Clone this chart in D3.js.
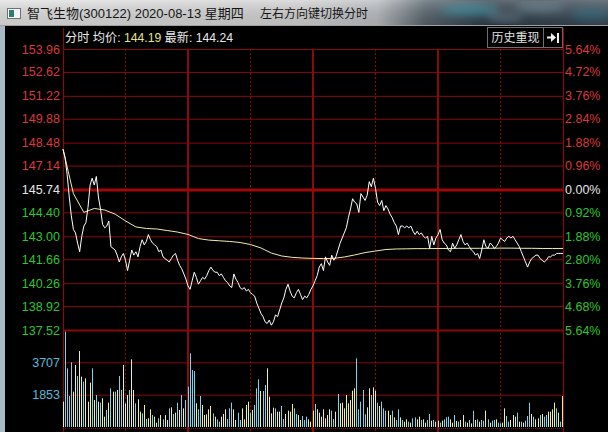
<!DOCTYPE html>
<html><head><meta charset="utf-8">
<script src="https://cdn.jsdelivr.net/npm/d3@7"></script>
<style>
html,body{margin:0;padding:0;background:#000;overflow:hidden}
svg{display:block}
text{font-family:"Liberation Sans","Noto Sans CJK SC",Arial,sans-serif}
</style></head><body>
<svg id="c" width="608" height="432"></svg>
<script>
// ---------------- data ----------------
const titleText = "智飞生物(300122) 2020-08-13 星期四";
const hintText = "左右方向键切换分时";
const headerLabels = ["分时 均价:", "144.19", "最新:", "144.24"];
const buttonText = "历史重现";

const prevClose = 145.74;
const priceTicks = [153.96,152.62,151.22,149.88,148.48,147.14,145.74,144.40,143.00,141.66,140.26,138.92,137.52];
const pctLabels = ["5.64%","4.72%","3.76%","2.84%","1.88%","0.96%","0.00%","0.92%","1.88%","2.80%","3.76%","4.68%","5.64%"];
const volTicks = [3707, 1853];
const volTop = 5560;

// minute prices 09:30 .. 15:00 (241 points)
const price = [
148.1,147.6,146.6,145.3,144.2,143.4,143.2,142.6,142.1,143.0,
143.6,143.8,144.7,146.0,146.4,146.0,146.5,145.3,144.6,143.7,
143.5,143.6,143.9,142.4,142.3,142.2,141.9,141.5,141.8,142.0,
141.6,141.0,141.6,142.2,141.9,142.1,141.8,142.4,142.8,142.5,
142.7,143.1,142.8,142.6,142.5,142.4,142.1,142.2,141.8,141.7,
141.6,141.5,141.7,141.9,142.0,141.6,141.3,141.1,140.8,140.5,
140.1,139.9,140.4,140.9,140.6,140.2,140.4,140.6,140.5,140.7,
141.0,141.2,141.0,140.9,140.9,140.7,140.8,140.6,140.4,140.3,
140.1,140.0,140.8,140.5,140.3,140.0,139.9,140.0,139.8,139.9,
139.7,139.6,139.5,139.1,138.8,138.5,138.3,138.0,137.9,138.1,
137.8,138.0,138.4,138.3,138.7,139.1,139.4,139.9,140.2,139.8,
139.5,139.4,139.7,139.9,139.6,139.3,139.5,139.4,139.6,139.9,
140.1,140.4,140.7,141.2,141.4,141.0,141.8,141.5,141.3,141.9,
141.6,141.8,142.2,142.6,142.9,143.2,143.5,144.1,144.6,145.2,
145.0,144.9,144.4,145.5,145.3,145.1,145.4,146.2,145.9,146.4,
145.8,145.0,144.8,145.1,144.5,144.8,144.6,144.3,144.1,143.8,
143.6,143.1,143.6,143.6,143.5,143.6,143.5,143.6,143.3,143.1,
143.3,143.1,143.2,143.0,142.9,143.0,142.3,143.0,142.5,142.9,
143.1,143.4,142.8,142.6,142.5,142.2,142.1,142.6,142.3,142.5,
142.8,143.1,142.7,142.5,142.6,142.4,142.2,142.1,141.9,142.0,
141.7,142.2,142.8,142.4,142.3,142.6,142.5,142.3,142.4,142.6,
142.9,142.8,142.7,142.9,143.0,142.9,143.0,142.8,142.6,142.4,
142.1,141.8,141.5,141.2,141.5,141.7,141.8,141.9,141.9,141.7,
141.6,141.5,141.6,141.8,141.8,141.9,141.9,142.0,142.0,142.0,
142.0];

// average price line, read every 5 minutes
const avgStep = 5;
const avgPrice = [
148.1,145.5,144.4,144.63,144.54,144.3,143.9,143.55,143.46,143.43,
143.34,143.25,143.11,142.87,142.78,142.74,142.70,142.64,142.52,142.32,
142.02,141.85,141.77,141.73,141.71,141.70,141.71,141.79,141.91,142.05,
142.14,142.23,142.26,142.27,142.28,142.28,142.29,142.29,142.30,142.30,
142.30,142.30,142.31,142.31,142.30,142.30,142.29,142.29,142.29];

// minute volume (241)
const volume = [
1452,5465,3363,1777,3707,2025,3554,2923,4356,2885,
2598,2789,1452,2541,3363,1548,1834,1452,1395,1643,
592,974,1395,2216,2025,2025,2121,2923,2121,3554,
1357,1834,2121,3879,2121,1357,1586,879,783,1261,
459,497,1013,688,592,248,497,688,440,688,
401,1070,1127,745,822,1395,974,1834,1070,
1548,2312,4223,3267,3210,1357,1013,
1777,1261,688,726,1013,1204,783,592,439,306,
592,745,1013,459,1070,1395,1013,401,822,401,
1070,439,1261,1452,822,974,1261,2216,2732,2064,
2064,2407,3363,1739,783,1108,1070,879,879,
1204,459,745,936,879,1318,1070,745,688,401,
631,401,592,439,306,936,1318,1013,822,
592,1013,497,688,1013,936,459,879,1892,1357,
1395,1070,1834,1357,1548,2083,2216,3936,1013,
1452,2121,726,1127,2216,1834,2274,2083,1395,1204,
1452,1070,936,936,
688,936,554,401,1013,554,401,306,439,306,
248,497,554,439,592,401,439,248,401,745,
363,401,306,363,248,363,439,554,592,439,
248,688,344,306,401,688,306,248,401,210,
936,401,439,306,401,363,936,439,248,363,
401,439,248,210,248,1070,631,306,401,688,
592,822,306,306,248,363,631,1395,745,592,
439,497,688,745,592,688,879,879,1013,1395,
1070,822,306,1777];

// bar direction: Y = up (yellow), C = down (cyan)
const volDir = (
"YCCCCYYCYY"+"CYYYCYCYCY"+"YCYCYCYCCY"+"YYCYYCYYCY"+"CYYCYYCYCY"+"YCYCYCYCY"+"CCCCCYC"+
"CYYYYYCYCC"+"YYYCCCYYCC"+"YYYYCYCCCY"+"CCYYYYCYY"+"CCYYYYCCYY"+"CCCYYYCYY"+"YYYYYCCYCY"+"YYYYYYYCC"+"CCCYYCYYCY"+"CCCY"+
"YCYCCYCYYC"+"YCCYYCYYCC"+"YCYYCYCCCY"+"YCYCYYCYCY"+"CYCYCCYCYC"+"CYCCYYCCYY"+"YCYCYCCCYC"+"YYCYCCYYYY"+"CYCY"
).split("");

// ---------------- drawing ----------------
const svg = d3.select("#c");
const W = 608, H = 432;
const L = 63, R = 563, T = 49, PB = 330, VB = 427;

const x = d3.scaleLinear().domain([0, 240]).range([L, R]);
const y = d3.scaleLinear().domain([137.52, 153.96]).range([PB, T]);
const yv = d3.scaleLinear().domain([0, volTop]).range([VB, PB]);

svg.append("rect").attr("width", W).attr("height", H).attr("fill", "#000");

// title bar
const defs = svg.append("defs");
const g1 = defs.append("linearGradient").attr("id", "tb").attr("x1", 0).attr("x2", 1).attr("y1", 0).attr("y2", 0);
[["0%","#e2e2e2"],["50%","#d0d0d0"],["62%","#b8bcc0"],["70%","#56626c"],["80%","#2c3a46"],["100%","#3a4854"]]
  .forEach(s => g1.append("stop").attr("offset", s[0]).attr("stop-color", s[1]));
const g2 = defs.append("linearGradient").attr("id", "tbv").attr("x1", 0).attr("x2", 0).attr("y1", 0).attr("y2", 1);
[["0%","#ffffff","0.25"],["100%","#000000","0.1"]]
  .forEach(s => g2.append("stop").attr("offset", s[0]).attr("stop-color", s[1]).attr("stop-opacity", s[2]));
defs.append("filter").attr("id", "blur").append("feGaussianBlur").attr("stdDeviation", 4);

svg.append("rect").attr("x", 0).attr("y", 0).attr("width", W).attr("height", 26).attr("fill", "url(#tb)");
const blobs = svg.append("g").attr("filter", "url(#blur)");
[[470,10,30,6,"#2f8ca0"],[540,8,25,5,"#5a7a8a"],[590,14,20,6,"#2a6a80"],[505,18,18,4,"#6a8090"]]
  .forEach(b => blobs.append("ellipse").attr("cx", b[0]).attr("cy", b[1]).attr("rx", b[2]).attr("ry", b[3]).attr("fill", b[4]).attr("opacity", 0.7));
svg.append("rect").attr("x", 0).attr("y", 0).attr("width", W).attr("height", 26).attr("fill", "url(#tbv)");
svg.append("line").attr("x1", 0).attr("x2", W).attr("y1", 25.5).attr("y2", 25.5).attr("stroke", "#a0a0a0");

// window icon
svg.append("rect").attr("x", 7.5).attr("y", 8.5).attr("width", 13).attr("height", 10).attr("fill", "#f4f4f4").attr("stroke", "#707070");
svg.append("rect").attr("x", 9).attr("y", 10).attr("width", 5).attr("height", 7).attr("fill", "#2e7d6e");

svg.append("text").attr("x", 27).attr("y", 18).attr("font-size", 13).attr("fill", "#151515").text(titleText);
svg.append("text").attr("x", 260).attr("y", 18).attr("font-size", 12).attr("fill", "#151515").text(hintText);

// left window frame strip
svg.append("rect").attr("x", 0).attr("y", 26).attr("width", 5).attr("height", H - 26).attr("fill", "#a8bac6");

// header text
const ht = svg.append("text").attr("x", 65).attr("y", 42).attr("font-size", 12.2);
ht.append("tspan").attr("fill", "#e8e8e8").text(headerLabels[0] + " ");
ht.append("tspan").attr("fill", "#e4e48a").text(headerLabels[1]);
ht.append("tspan").attr("fill", "#e8e8e8").text(" " + headerLabels[2] + " ");
ht.append("tspan").attr("fill", "#e8e8e8").text(headerLabels[3]);

// button
svg.append("rect").attr("x", 487.5).attr("y", 27.5).attr("width", 56).attr("height", 20).attr("fill", "#000").attr("stroke", "#6e6e6e");
svg.append("rect").attr("x", 543.5).attr("y", 27.5).attr("width", 19).attr("height", 20).attr("fill", "#000").attr("stroke", "#6e6e6e");
svg.append("text").attr("x", 515.5).attr("y", 42).attr("font-size", 12).attr("text-anchor", "middle").attr("fill", "#e0e0e0").text(buttonText);
svg.append("path").attr("d", "M547,36.5h4v-3.5l5,4.5l-5,4.5v-3.5h-4z M557,33h2v10h-2z").attr("fill", "#f0f0f0");

// ---------- grid ----------
const grid = svg.append("g");
const thin = "#8a0a0a";
// vertical borders
[0, 240].forEach(m => grid.append("line").attr("x1", x(m) + 0.5).attr("x2", x(m) + 0.5)
  .attr("y1", 28).attr("y2", H).attr("stroke", thin).attr("stroke-width", 1.2));
// hour lines
[60, 120, 180].forEach(m => grid.append("line").attr("x1", x(m)).attr("x2", x(m))
  .attr("y1", T).attr("y2", H).attr("stroke", thin).attr("stroke-width", 2));
// half-hour dotted
[30, 90, 150, 210].forEach(m => grid.append("line").attr("x1", x(m)).attr("x2", x(m))
  .attr("y1", T).attr("y2", H).attr("stroke", thin).attr("stroke-width", 1).attr("stroke-dasharray", "2,2"));

// horizontal price grid via axis
const hg = svg.append("g").attr("transform", `translate(${L},0)`)
  .call(d3.axisRight(y).tickValues(priceTicks).tickSize(R - L).tickFormat(""));
hg.select(".domain").remove();
hg.selectAll(".tick line")
  .attr("stroke", d => d === prevClose ? "#a00808" : thin)
  .attr("stroke-width", d => d === prevClose ? 3 : (d === 137.52 ? 2 : 1));

// volume grid
const vg = svg.append("g").attr("transform", `translate(${L},0)`)
  .call(d3.axisRight(yv).tickValues(volTicks).tickSize(R - L).tickFormat(""));
vg.select(".domain").remove();
vg.selectAll(".tick line").attr("stroke", thin).attr("stroke-width", 1);
grid.append("line").attr("x1", L).attr("x2", R).attr("y1", VB + 1.5).attr("y2", VB + 1.5)
  .attr("stroke", thin).attr("stroke-dasharray", "1,1");

// ---------- axes labels ----------
const colorFor = d => d > prevClose + 0.001 ? "#d83a3a" : (d < prevClose - 0.001 ? "#2fc52f" : "#e6e6e6");
const la = svg.append("g").attr("transform", `translate(${L - 1},0)`)
  .call(d3.axisLeft(y).tickValues(priceTicks).tickSize(0).tickPadding(2).tickFormat(d3.format(".2f")));
la.select(".domain").remove();
la.selectAll(".tick text").attr("font-size", 12.5).attr("fill", colorFor)
  .attr("font-family", '"Liberation Sans",Arial,sans-serif');

const ra = svg.append("g").attr("transform", `translate(${R + 1},0)`)
  .call(d3.axisRight(y).tickValues(priceTicks).tickSize(0).tickPadding(1).tickFormat((d, i) => pctLabels[i]));
ra.select(".domain").remove();
ra.selectAll(".tick text").attr("font-size", 12.5).attr("fill", colorFor)
  .attr("font-family", '"Liberation Sans",Arial,sans-serif');

const va = svg.append("g").attr("transform", `translate(${L - 1},0)`)
  .call(d3.axisLeft(yv).tickValues(volTicks).tickSize(0).tickPadding(2).tickFormat(d3.format("d")));
va.select(".domain").remove();
va.selectAll(".tick text").attr("font-size", 12.5).attr("fill", "#56bcdc")
  .attr("font-family", '"Liberation Sans",Arial,sans-serif');

// ---------- volume bars ----------
svg.append("g").selectAll("rect").data(volume).join("rect")
  .attr("x", (d, i) => Math.min(Math.floor(x(i)), R - 1))
  .attr("width", 1)
  .attr("y", d => yv(d))
  .attr("height", d => VB - yv(d))
  .attr("fill", (d, i) => volDir[i] === "Y" ? "#eeeea4" : "#7cd4ec");

// ---------- lines ----------
svg.append("path").datum(avgPrice)
  .attr("d", d3.line().x((d, i) => x(i * avgStep)).y(d => y(d)))
  .attr("fill", "none").attr("stroke", "#eeeeaa").attr("stroke-width", 1);

svg.append("path").datum(price)
  .attr("d", d3.line().x((d, i) => x(i)).y(d => y(d)))
  .attr("fill", "none").attr("stroke", "#ffffff").attr("stroke-width", 1);
</script>
</body></html>
